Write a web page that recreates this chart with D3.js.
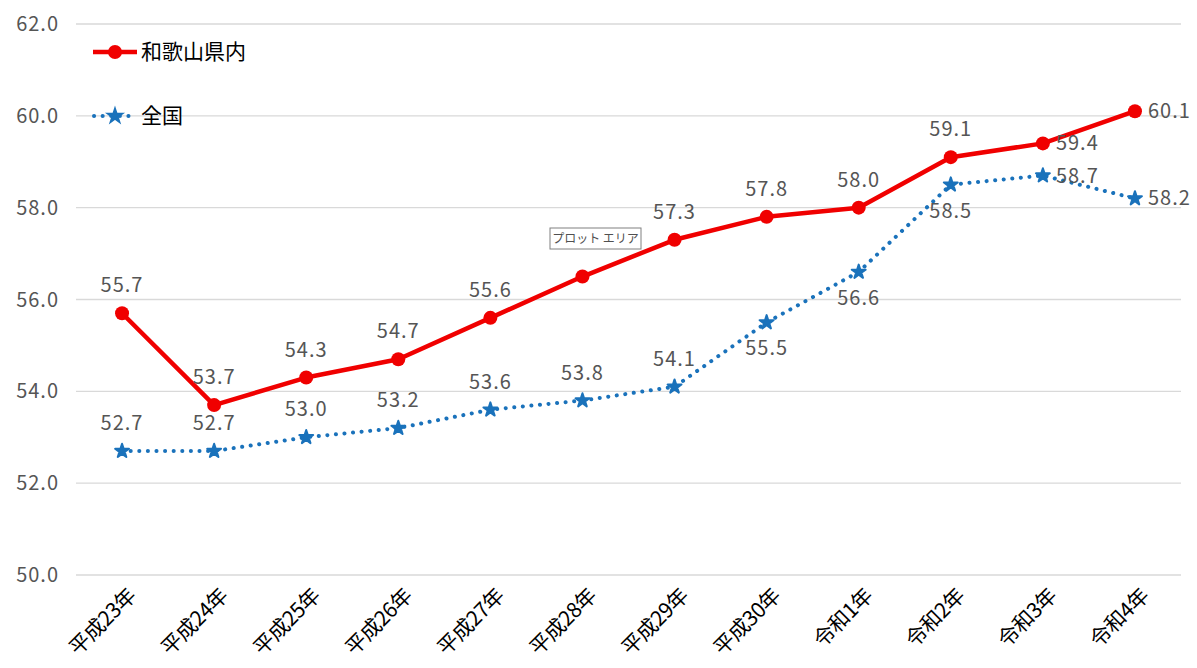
<!DOCTYPE html>
<html>
<head>
<meta charset="utf-8">
<script src="https://cdn.jsdelivr.net/npm/d3@7"></script>
<style>
  body { margin: 0; background: #fff; }
  text { font-family: "Noto Sans CJK JP", "DejaVu Sans", sans-serif; }
</style>
</head>
<body>
<div id="chart"></div>
<script>
// chart data
const categories = ['平成23年', '平成24年', '平成25年', '平成26年', '平成27年', '平成28年',
  '平成29年', '平成30年', '令和1年', '令和2年', '令和3年', '令和4年'];
const wakayama = [55.7, 53.7, 54.3, 54.7, 55.6, 56.5, 57.3, 57.8, 58.0, 59.1, 59.4, 60.1];
const zenkoku = [52.7, 52.7, 53.0, 53.2, 53.6, 53.8, 54.1, 55.5, 56.6, 58.5, 58.7, 58.2];
const yTicks = [50, 52, 54, 56, 58, 60, 62];
// label placement per point (index -> 'top' | 'bottom' | 'right' | 'none')
const redLabelPos = ['top', 'top', 'top', 'top', 'top', 'none', 'top', 'top', 'top', 'top', 'right', 'right'];
const blueLabelPos = ['top', 'top', 'top', 'top', 'top', 'top', 'top', 'bottom', 'bottom', 'bottom', 'right', 'right'];

const width = 1197, height = 668;
const margin = { top: 24, right: 16, bottom: 93, left: 76 };

const svg = d3.select('#chart').append('svg')
  .attr('width', width)
  .attr('height', height);

const x = d3.scalePoint()
  .domain(categories)
  .range([margin.left, width - margin.right])
  .padding(0.5);

const y = d3.scaleLinear()
  .domain([50, 62])
  .range([height - margin.bottom, margin.top]);

const RED = '#f00000';
const BLUE = '#1a72bb';
const TEXT = '#555555';

// gridlines
svg.append('g')
  .selectAll('line')
  .data(yTicks)
  .enter()
  .append('line')
  .attr('x1', margin.left)
  .attr('x2', width - margin.right)
  .attr('y1', d => y(d))
  .attr('y2', d => y(d))
  .style('stroke', '#d9d9d9')
  .style('stroke-width', '1.3px');

// y axis labels
svg.append('g')
  .selectAll('text')
  .data(yTicks)
  .enter()
  .append('text')
  .attr('x', 59)
  .attr('y', d => y(d))
  .attr('dy', '0.35em')
  .attr('text-anchor', 'end')
  .style('font-size', '20px')
  .style('letter-spacing', '1px')
  .style('fill', TEXT)
  .text(d => d.toFixed(1));

// x axis labels, rotated
svg.append('g')
  .selectAll('text')
  .data(categories)
  .enter()
  .append('text')
  .attr('transform', d => `translate(${x(d) + 10},${height - margin.bottom + 17}) rotate(-45)`)
  .attr('text-anchor', 'end')
  .attr('dy', '0.35em')
  .style('font-size', '21px')
  .style('fill', '#000')
  .style('letter-spacing', '-0.5px')
  .text(d => d);

const line = d3.line()
  .x((d, i) => x(categories[i]))
  .y(d => y(d));

// 全国 series (dotted)
svg.append('path')
  .datum(zenkoku)
  .attr('d', line)
  .style('fill', 'none')
  .style('stroke', BLUE)
  .style('stroke-width', '4px')
  .style('stroke-linecap', 'round')
  .style('stroke-dasharray', '0.1 8.5');

const star = d3.symbol().type(d3.symbolStar).size(60);

svg.append('g')
  .selectAll('path')
  .data(zenkoku)
  .enter()
  .append('path')
  .attr('d', star)
  .attr('transform', (d, i) => `translate(${x(categories[i])},${y(d)})`)
  .style('fill', BLUE)
  .style('stroke', BLUE)
  .style('stroke-width', '2px')
  .style('stroke-linejoin', 'round');

// 和歌山県内 series
svg.append('path')
  .datum(wakayama)
  .attr('d', line)
  .style('fill', 'none')
  .style('stroke', RED)
  .style('stroke-width', '4.5px')
  .style('stroke-linejoin', 'round');

svg.append('g')
  .selectAll('circle')
  .data(wakayama)
  .enter()
  .append('circle')
  .attr('cx', (d, i) => x(categories[i]))
  .attr('cy', d => y(d))
  .attr('r', 7)
  .style('fill', RED);

// data labels
function addLabels(values, positions) {
  svg.append('g')
    .selectAll('text')
    .data(values.map((v, i) => ({ v, i, pos: positions[i] })).filter(d => d.pos !== 'none'))
    .enter()
    .append('text')
    .attr('x', d => x(categories[d.i]) + (d.pos === 'right' ? 13 : 0))
    .attr('y', d => y(d.v) + (d.pos === 'top' ? -28 : d.pos === 'bottom' ? 26 : 0))
    .attr('dy', '0.35em')
    .attr('text-anchor', d => d.pos === 'right' ? 'start' : 'middle')
    .style('font-size', '20px')
    .style('letter-spacing', '1px')
    .style('fill', TEXT)
    .text(d => d.v.toFixed(1));
}
addLabels(wakayama, redLabelPos);
addLabels(zenkoku, blueLabelPos);

// legend
const legend = svg.append('g');
legend.append('line')
  .attr('x1', 93).attr('x2', 137).attr('y1', 52).attr('y2', 52)
  .style('stroke', RED).style('stroke-width', '4.5px');
legend.append('circle')
  .attr('cx', 115).attr('cy', 52).attr('r', 7).style('fill', RED);
legend.append('text')
  .attr('x', 141).attr('y', 52).attr('dy', '0.35em')
  .style('font-size', '21px').style('fill', '#000')
  .text('和歌山県内');

legend.append('line')
  .attr('x1', 94).attr('x2', 136).attr('y1', 116).attr('y2', 116)
  .style('stroke', BLUE).style('stroke-width', '4px')
  .style('stroke-linecap', 'round').style('stroke-dasharray', '0.1 8.5');
legend.append('path')
  .attr('d', star)
  .attr('transform', 'translate(115,116)')
  .style('fill', BLUE).style('stroke', BLUE).style('stroke-width', '2px');
legend.append('text')
  .attr('x', 141).attr('y', 116).attr('dy', '0.35em')
  .style('font-size', '21px').style('fill', '#000')
  .text('全国');

// "プロットエリア" tooltip box seen in the screenshot
const tip = svg.append('g').attr('transform', 'translate(550,228)');
tip.append('rect')
  .attr('width', 91).attr('height', 21)
  .style('fill', '#fff').style('stroke', '#808080').style('stroke-width', '1px');
tip.append('text')
  .attr('x', 45.5).attr('y', 11).attr('dy', '0.35em')
  .attr('text-anchor', 'middle')
  .style('font-size', '12px').style('fill', '#505050')
  .text('プロット エリア');
</script>
</body>
</html>
